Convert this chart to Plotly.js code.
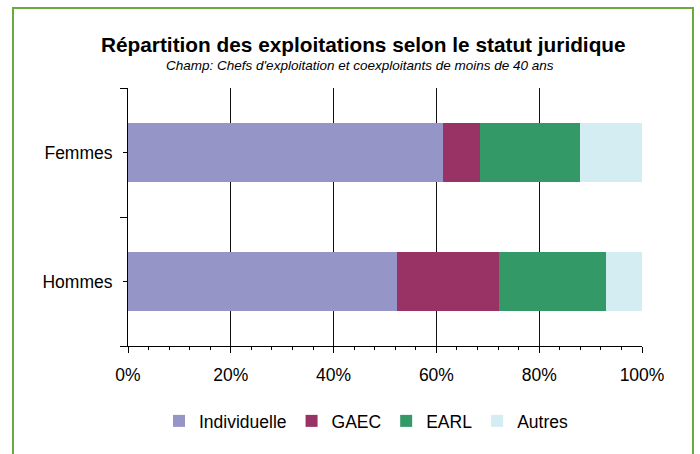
<!DOCTYPE html>
<html>
<head>
<meta charset="utf-8">
<script src="https://cdn.plot.ly/plotly-3.0.1.min.js"></script>
<style>
html,body{margin:0;padding:0;background:#fff;}
#chart{width:700px;height:454px;}
</style>
</head>
<body>
<div id="chart"></div>
<script>
// Data
const categories = ['Femmes', 'Hommes'];
const seriesNames = ['Individuelle', 'GAEC', 'EARL', 'Autres'];
const individuelle = [61.3, 52.3];
const gaec = [7.2, 19.9];
const earl = [19.4, 20.8];
const autres = [12.1, 7.0];
const xTickVals = [0, 20, 40, 60, 80, 100];
const xTickText = ['0%', '20%', '40%', '60%', '80%', '100%'];
const titleText = 'Répartition des exploitations selon le statut juridique';
const subtitleText = "Champ: Chefs d'exploitation et coexploitants de moins de 40 ans";

const colors = ['#9595c8', '#993366', '#339966', '#d4edf3'];
const values = [individuelle, gaec, earl, autres];

// category positions (Femmes on top)
const pos = categories.map((c, i) => categories.length - 1 - i);

const FONT = 'Liberation Sans, Arial, sans-serif';

const traces = seriesNames.map((name, k) => ({
  type: 'bar',
  orientation: 'h',
  name: name,
  x: values[k],
  y: pos,
  width: 0.46,
  marker: {color: colors[k], line: {width: 0}},
  hoverinfo: 'x+name'
}));

const L = 128, R = 58, T = 88, B = 108;
const W = 700 - L - R, H = 454 - T - B;
const px = v => (v - L) / W;
const py = v => (454 - B - v) / H;

const layout = {
  width: 700,
  height: 454,
  margin: {l: L, r: R, t: T, b: B, pad: 0},
  paper_bgcolor: '#ffffff',
  plot_bgcolor: '#ffffff',
  barmode: 'stack',
  bargap: 0,
  font: {family: FONT, color: '#000', size: 17.5},
  showlegend: true,
  legend: {
    orientation: 'h',
    x: px(159), xanchor: 'left',
    y: py(421), yanchor: 'middle',
    font: {family: FONT, size: 17.5, color: '#000'},
    traceorder: 'normal',
    itemclick: false,
    bgcolor: 'rgba(0,0,0,0)'
  },
  xaxis: {
    range: [0, 100],
    tickmode: 'array',
    tickvals: xTickVals,
    ticktext: xTickText,
    ticks: 'outside',
    ticklen: 6,
    tickwidth: 1,
    tickcolor: '#000',
    ticklabelstandoff: 7,
    showgrid: true,
    gridcolor: '#111',
    gridwidth: 1,
    zeroline: false,
    showline: true,
    linecolor: '#000',
    linewidth: 1,
    tickfont: {family: FONT, size: 17.5, color: '#000'},
    minor: {dtick: 4, tick0: 0, ticks: 'outside', ticklen: 3, tickcolor: '#000', tickwidth: 1, showgrid: false},
    fixedrange: true
  },
  yaxis: {
    range: [-0.5, 1.5],
    tickmode: 'array',
    tickvals: pos,
    ticktext: categories,
    ticks: 'outside',
    ticklen: 4,
    tickcolor: '#000',
    tickwidth: 1,
    ticklabelstandoff: 7,
    showgrid: false,
    zeroline: false,
    showline: true,
    linecolor: '#000',
    linewidth: 1,
    tickfont: {family: FONT, size: 17.5, color: '#000'},
    minor: {tickmode: 'linear', tick0: -0.5, dtick: 1, ticks: 'outside', ticklen: 7, tickcolor: '#000', tickwidth: 1, showgrid: false},
    fixedrange: true
  },
  annotations: [
    {text: '<b>' + titleText + '</b>', xref: 'paper', yref: 'paper', x: px(363), y: py(45),
     xanchor: 'center', yanchor: 'middle', showarrow: false,
     font: {family: FONT, size: 20.8, color: '#000'}},
    {text: '<i>' + subtitleText + '</i>', xref: 'paper', yref: 'paper', x: px(360), y: py(65.5),
     xanchor: 'center', yanchor: 'middle', showarrow: false,
     font: {family: FONT, size: 13.5, color: '#000'}}
  ],
  shapes: [
    {type: 'rect', xref: 'paper', yref: 'paper', x0: px(13), x1: px(693), y0: py(480), y1: py(8),
     line: {color: '#6aaa3c', width: 2}, fillcolor: 'rgba(0,0,0,0)', layer: 'above'}
  ]
};

Plotly.newPlot('chart', traces, layout, {displayModeBar: false, staticPlot: true});
</script>
</body>
</html>
